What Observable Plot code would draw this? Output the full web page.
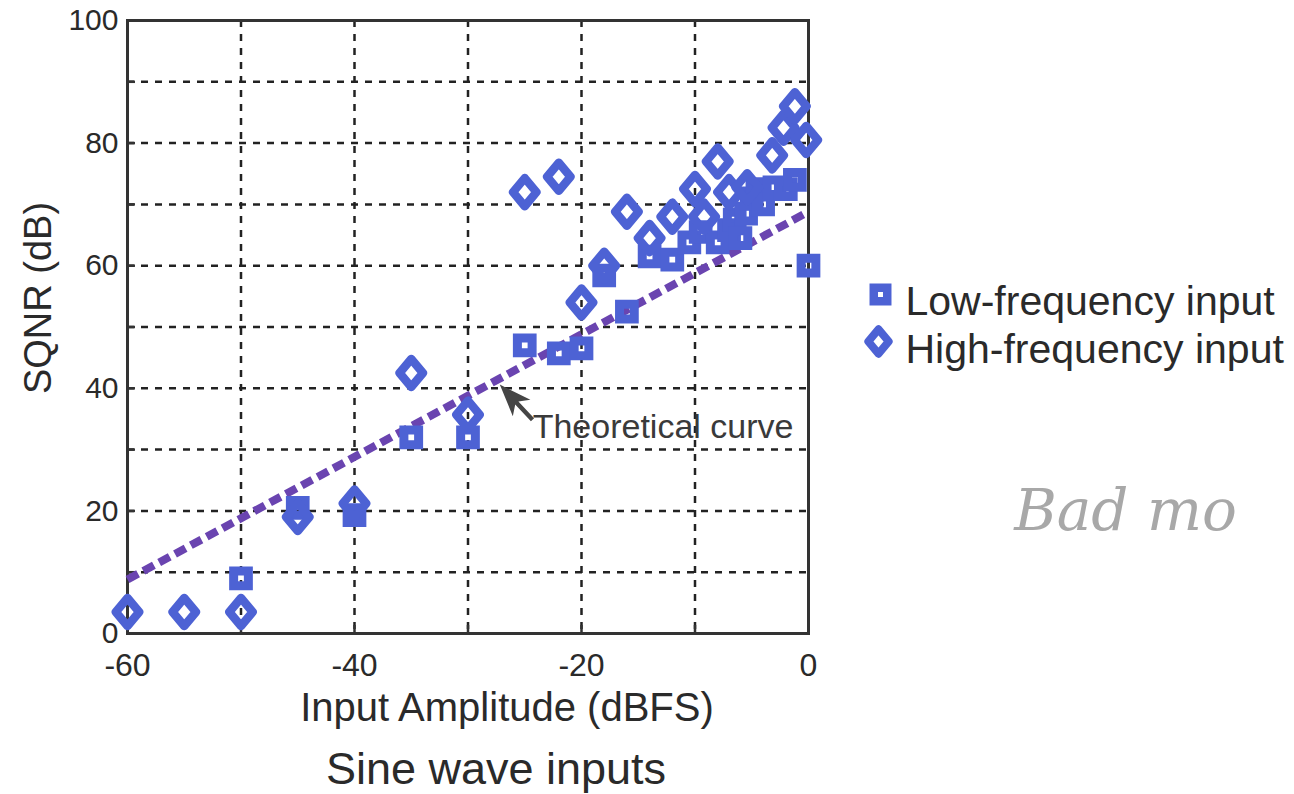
<!DOCTYPE html>
<html>
<head>
<meta charset="utf-8">
<script src="https://cdn.jsdelivr.net/npm/d3@7"></script>
<script src="https://cdn.jsdelivr.net/npm/@observablehq/plot@0.6"></script>
<style>
  html, body { margin: 0; padding: 0; background: #fff; }
  #chart { width: 1294px; height: 794px; }
</style>
</head>
<body>
<div id="chart"></div>
<script>
// ---- Data ----
const lowX = [-50, -45, -40, -35, -30, -25, -22, -20, -18, -16, -14, -12, -10.5, -9.5, -8, -7, -6.5, -6, -5.5, -5, -4.5, -4, -3, -2, -1.2, 0];
const lowY = [9, 20.5, 19.3, 32, 32, 47, 45.7, 46.5, 58.4, 52.5, 61.5, 61, 63.8, 65.5, 63.8, 65.8, 67.5, 64.5, 68.5, 71, 72.5, 70, 72.8, 72.5, 74, 60];
const highX = [-60, -55, -50, -45, -40, -35, -30, -25, -22, -20, -18, -16, -14, -12, -10, -9.2, -8, -7, -5.4, -3.2, -2.2, -1.2, -0.2];
const highY = [3.5, 3.5, 3.5, 19, 21.2, 42.5, 35.7, 72, 74.5, 54, 60, 68.8, 64.5, 68, 72.5, 68, 77, 72, 72.8, 78, 82.5, 86, 80.5];
const theoX = [-60, 0];
const theoY = [8.8, 68.8];
const xTicks = [-60, -40, -20, 0];
const yTicks = [0, 20, 40, 60, 80, 100];
const xGrid = [-50, -40, -30, -20, -10];
const yGrid = [10, 20, 30, 40, 50, 60, 70, 80, 90];
const xMinor = [-50, -40, -30, -20, -10];
const yMinor = [10, 20, 30, 40, 50, 60, 70, 80, 90];
const arrowTip = [{x: -27.2, y: 40.6}];
const annotation = [{x: -24.3, y: 33.6, text: "Theoretical curve"}];
const legendLabels = ["Low-frequency input", "High-frequency input"];
const xLabel = "Input Amplitude (dBFS)";
const yLabel = "SQNR (dB)";
const title = "Sine wave inputs";
const scribble = "Bad mo";

const low = lowX.map((x, i) => ({x, y: lowY[i]}));
const high = highX.map((x, i) => ({x, y: highY[i]}));
const theo = theoX.map((x, i) => ({x, y: theoY[i]}));

// ---- Symbols ----
const squareSym = {draw(ctx, size) { const s = Math.sqrt(size) / 2; ctx.moveTo(-s, -s); ctx.lineTo(s, -s); ctx.lineTo(s, s); ctx.lineTo(-s, s); ctx.closePath(); }};
const diamondSym = {draw(ctx, size) { const w = Math.sqrt(size) / 2, h = w * 1.2; ctx.moveTo(0, -h); ctx.lineTo(w, 0); ctx.lineTo(0, h); ctx.lineTo(-w, 0); ctx.closePath(); }};
const arrowSym = {draw(ctx) { ctx.moveTo(0, 0); ctx.lineTo(12, 32); ctx.lineTo(2.2, 25); ctx.lineTo(2.2, 48); ctx.lineTo(-2.2, 48); ctx.lineTo(-2.2, 25); ctx.lineTo(-12, 32); ctx.closePath(); }};

const blue = "#4d62d4";
const purple = "#6a44b0";
const ink = "#2a2a2a";
const font = "'Liberation Sans', Arial, Helvetica, sans-serif";
const fmt = d => String(d);

const plot = Plot.plot({
  width: 1294,
  height: 794,
  marginLeft: 127,
  marginRight: 486,
  marginTop: 20,
  marginBottom: 161,
  style: {fontFamily: font, background: "#fff", color: ink},
  x: {domain: [-60, 0], label: null},
  y: {domain: [0, 100], label: null},
  marks: [
    Plot.gridX(xGrid, {stroke: "#222", strokeOpacity: 1, strokeWidth: 2.5, strokeDasharray: "7,7"}),
    Plot.gridY(yGrid, {stroke: "#222", strokeOpacity: 1, strokeWidth: 2.5, strokeDasharray: "7,7"}),
    Plot.axisX(xTicks, {tickSize: 0, tickPadding: 20, fontSize: 32, label: null, fill: ink, tickFormat: fmt}),
    Plot.axisY(yTicks, {tickSize: 0, tickPadding: 9, fontSize: 30, label: null, fill: ink, tickFormat: fmt}),
    Plot.axisY(yMinor, {tickSize: 8, dx: 8, tickFormat: () => "", label: null, stroke: "#333", strokeWidth: 2.5}),
    Plot.axisX(xMinor, {tickSize: 8, dy: -8, tickFormat: () => "", label: null, stroke: "#333", strokeWidth: 2.5}),
    Plot.frame({stroke: "#333", strokeWidth: 3}),
    Plot.line(theo, {x: "x", y: "y", stroke: purple, strokeWidth: 8, strokeDasharray: "12,6", strokeLinecap: "butt"}),
    Plot.dot(low, {x: "x", y: "y", symbol: squareSym, r: 8.3, fill: "none", stroke: blue, strokeWidth: 9}),
    Plot.dot(high, {x: "x", y: "y", symbol: diamondSym, r: 13.2, fill: "none", stroke: blue, strokeWidth: 8.5, strokeLinejoin: "round"}),
    Plot.dot(arrowTip, {x: "x", y: "y", symbol: arrowSym, r: 5, fill: "#454545", stroke: "none", rotate: -43}),
    Plot.text(annotation, {x: "x", y: "y", text: "text", textAnchor: "start", fontSize: 34, fill: "#3a3a3a"}),
    // axis titles and chart title
    Plot.text([xLabel], {frameAnchor: "bottom", textAnchor: "middle", dx: 39, dy: 87, text: d => d, fontSize: 40, fill: ink}),
    Plot.text([title], {frameAnchor: "bottom", textAnchor: "middle", dx: 28, dy: 150, text: d => d, fontSize: 45, fill: ink}),
    Plot.text([yLabel], {frameAnchor: "left", textAnchor: "middle", dx: -89, dy: -29, rotate: -90, text: d => d, fontSize: 38, fill: ink}),
    // legend
    Plot.dot([0], {frameAnchor: "top-right", dx: 72, dy: 274, symbol: squareSym, r: 7.6, fill: "none", stroke: blue, strokeWidth: 8.5}),
    Plot.dot([0], {frameAnchor: "top-right", dx: 70, dy: 321, symbol: diamondSym, r: 11.5, fill: "none", stroke: blue, strokeWidth: 8, strokeLinejoin: "round"}),
    Plot.text([legendLabels[0]], {frameAnchor: "top-right", dx: 97, dy: 265, text: d => d, textAnchor: "start", fontSize: 41, fill: ink}),
    Plot.text([legendLabels[1]], {frameAnchor: "top-right", dx: 97, dy: 313, text: d => d, textAnchor: "start", fontSize: 41, fill: ink}),
    // pencil note
    Plot.text([scribble], {frameAnchor: "top-right", textAnchor: "middle", dx: 317, dy: 468, text: d => d, fontSize: 58, fontStyle: "italic", fontFamily: "'DejaVu Serif', serif", fill: "#a8a8a8", letterSpacing: 6})
  ]
});
document.getElementById("chart").appendChild(plot);
</script>
</body>
</html>
